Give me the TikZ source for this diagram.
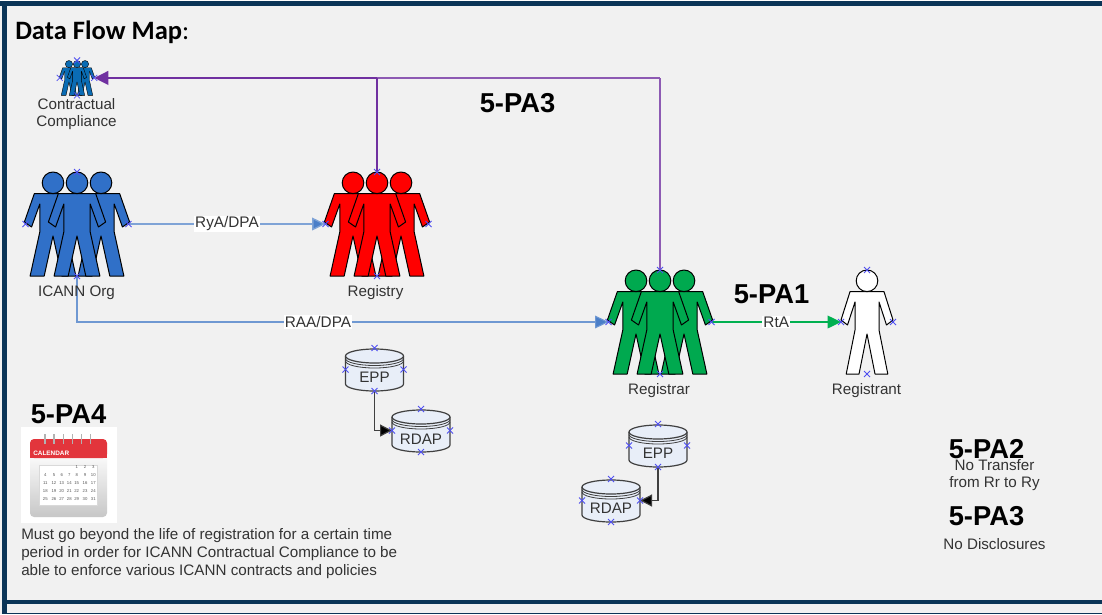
\documentclass[tikz,border=0pt]{standalone}
\usepackage{fontspec}
\setmainfont{Liberation Sans}
\newfontfamily\titlefont{Carlito}
\usetikzlibrary{arrows.meta}
\definecolor{navy}{HTML}{0B3557}
\definecolor{panel}{HTML}{F1F1F1}
\definecolor{icannblue}{HTML}{3070C8}
\definecolor{ccblue}{HTML}{0A6CB4}
\definecolor{regred}{HTML}{FF0000}
\definecolor{regreen}{HTML}{00A94F}
\definecolor{linkblue}{HTML}{7FA3D6}
\definecolor{tipblue}{HTML}{4A7EC8}
\definecolor{linkgreen}{HTML}{00B050}
\definecolor{linkpurple}{HTML}{7030A0}
\definecolor{xcolr}{HTML}{5050F0}
\definecolor{dbfill}{HTML}{E8EEF8}
\definecolor{labelgrey}{HTML}{333333}
\definecolor{calred}{HTML}{E2353C}
\newcommand{\fsz}[1]{\fontsize{#1}{#1}\selectfont}
\tikzset{
  x=0.75pt,y=-0.75pt,
  xmark/.style={xcolr,line width=0.6pt},
  lbl/.style={inner sep=0pt,text=labelgrey,align=center,font=\fsz{11.4}},
  pa/.style={inner sep=0pt,text=black,font=\fsz{20.5}\bfseries},
  linklbl/.style={fill=white,inner sep=0.8pt,text=labelgrey,font=\fsz{11.5}},
  tipbig/.style={-{Triangle[length=10pt,width=9.5pt]}},
  fig/.style={draw=black,line width=#1,line join=round},
  fig/.default=0.7pt,
  onefig/.pic={
    \begin{scope}[scale=\tikzsetfigscale]
    \begin{scope}[xscale=\figxs]
    \path[fig=\figlw,fill=\figfill] (-17,21.7) -- (17,21.7) -- (26,50) -- (19.5,55) -- (12,32) -- (12,60) -- (20.8,104) -- (8,104) -- (0,64) -- (-8,104) -- (-20.8,104) -- (-12,60) -- (-12,32) -- (-19.5,55) -- (-26,50) -- cycle;
    \end{scope}
    \path[fig=\figlw,fill=\figfill] (0,10.8) circle[radius=10.8];
    \end{scope}
  },
  crowd/.pic={
    \pic at (-24*\tikzsetfigscale,0) {onefig};
    \pic at (24*\tikzsetfigscale,0) {onefig};
    \pic at (0,0) {onefig};
    \coordinate (-top) at (0,0);
    \coordinate (-bot) at (0,104*\tikzsetfigscale);
    \coordinate (-l) at (-51.5*\tikzsetfigscale,52*\tikzsetfigscale);
    \coordinate (-r) at (51.5*\tikzsetfigscale,52*\tikzsetfigscale);
  },
  solo/.pic={
    \pic at (0,0) {onefig};
    \coordinate (-top) at (0,0);
    \coordinate (-bot) at (0,104);
    \coordinate (-l) at (-26,52);
    \coordinate (-r) at (26,52);
  },
  dbpic/.pic={
    \path[draw=black!75,line width=0.9pt,fill=dbfill] (-29,8) -- (-29,36) arc[start angle=180,end angle=0,x radius=29,y radius=7] -- (29,8);
    \path[draw=black!75,line width=0.9pt,fill=dbfill] (0,8) ellipse[x radius=29,y radius=7];
    \draw[black!75,line width=0.6pt] (-29,10.5) arc[start angle=180,end angle=0,x radius=29,y radius=7];
    \draw[black!75,line width=0.6pt] (-29,13) arc[start angle=180,end angle=0,x radius=29,y radius=7];
    \coordinate (-top) at (0,0);
    \coordinate (-bot) at (0,43);
    \coordinate (-l) at (-29,21.5);
    \coordinate (-r) at (29,21.5);
  },
}
\newcommand{\tikzsetfigscale}{1}
\newcommand{\figxs}{1.1}
\newcommand{\figlw}{0.7pt}
\newcommand{\figfill}{white}
\newcommand{\xat}[1]{\draw[xmark] (#1) ++(-3,-3) -- ++(6,6) ++(-6,0) -- ++(6,-6);}
\begin{document}
\begin{tikzpicture}
\useasboundingbox (0,0) rectangle (1102,614);
% panel and frame
\fill[panel] (0,0) rectangle (1102,614);
\fill[white] (0,0) rectangle (1102,1);
\fill[navy] (0,1) rectangle (1102,5.8);
\fill[navy] (2,1) rectangle (6.5,614);
\fill[navy] (2,600) rectangle (1102,604);
\fill[navy] (2,613) rectangle (1102,614);
\node[anchor=base west,inner sep=0pt,font=\titlefont\fsz{19.9}] (title) at (15,39) {\textbf{Data Flow Map}:};
% people
\renewcommand{\figfill}{ccblue}\renewcommand{\figlw}{0.3pt}\renewcommand{\tikzsetfigscale}{0.335}
\pic (cc) at (77,60.5) {crowd};
\renewcommand{\figlw}{0.75pt}\renewcommand{\tikzsetfigscale}{1}
\renewcommand{\figfill}{icannblue}
\pic (icann) at (77,172) {crowd};
\renewcommand{\figfill}{regred}
\pic (registry) at (377,172) {crowd};
\renewcommand{\figfill}{regreen}
\pic (registrar) at (660,270) {crowd};
\renewcommand{\figfill}{white}\renewcommand{\figxs}{1}
\pic (registrant) at (867,270) {solo};
% databases
\pic (eppa) at (374.5,348) {dbpic};
\pic (rdapa) at (421,409) {dbpic};
\pic (eppb) at (658,424) {dbpic};
\pic (rdapb) at (611,479) {dbpic};
\node[inner sep=0pt,text=labelgrey,font=\fsz{11.4}] (eppat) at (374.5,377) {EPP};
\node[inner sep=0pt,text=labelgrey,font=\fsz{11.4}] (rdapat) at (421,439.5) {RDAP};
\node[inner sep=0pt,text=labelgrey,font=\fsz{11.4}] (eppbt) at (658,453) {EPP};
\node[inner sep=0pt,text=labelgrey,font=\fsz{11.4}] (rdapbt) at (611,508) {RDAP};
% connectors
\draw[black!75,line width=0.9pt,-{Triangle[length=9pt,width=9pt,fill=black]}] (eppa-bot) |- (rdapa-l);
\draw[black!75,line width=0.9pt,-{Triangle[length=9pt,width=9pt,fill=black]}] (eppb-bot) |- (rdapb-r);
\draw[linkblue,line width=1pt,-{Triangle[length=10pt,width=9.5pt,fill=tipblue]}] (icann-r) -- node[linklbl] (rya) {RyA/DPA} (registry-l);
\draw[linkblue!70!tipblue,line width=0.8pt,-{Triangle[length=10pt,width=9.5pt,fill=tipblue]}] (icann-bot) |- (registrar-l);
\node[linklbl] (raa) at (318,322) {RAA/DPA};
\draw[linkgreen,line width=1pt,tipbig] (registrar-r) -- node[linklbl] (rta) {RtA} (registrant-l);
\draw[linkpurple!80,line width=1.5pt] (registrar-top) -- (registrar-top |- cc-r);
\draw[linkpurple!80,line width=2pt] (registrar-top |- cc-r) -- (registry-top |- cc-r);
\draw[linkpurple,line width=1.5pt] (registry-top) -- (registry-top |- cc-r);
\draw[linkpurple,line width=2.1pt,-{Triangle[length=10.5pt,width=10pt,fill=linkpurple]}] (registry-top |- cc-r) -- (cc-r);
% connection markers
\foreach \c in {cc-top,cc-bot,cc-l,cc-r,icann-top,icann-bot,icann-l,icann-r,registry-top,registry-bot,registry-l,registry-r,registrar-top,registrar-bot,registrar-l,registrar-r,registrant-top,registrant-bot,registrant-l,registrant-r,eppa-top,eppa-bot,eppa-l,eppa-r,rdapa-top,rdapa-bot,rdapa-l,rdapa-r,eppb-top,eppb-bot,eppb-l,eppb-r,rdapb-top,rdapb-bot,rdapb-l,rdapb-r}{\xat{\c}}
% labels
\node[lbl] (cct) at (76.5,104) {Contractual};
\node[lbl] (cct2) at (76.5,122.5) {Compliance};
\node[lbl] (icannt) at (76.5,292.5) {ICANN Org};
\node[lbl] (registryt) at (375.5,292.5) {Registry};
\node[lbl] (registrart) at (659,390.5) {Registrar};
\node[lbl] (registrantt) at (866.5,390.5) {Registrant};
\node[pa] (pa3a) at (517.5,103) {5-PA3};
\node[pa] (pa1) at (771.5,294) {5-PA1};
\node[pa] (pa4) at (68.5,414) {5-PA4};
\node[pa] (pa2) at (986.5,449) {5-PA2};
\node[pa] (pa3b) at (986.5,516) {5-PA3};
\node[lbl] (nt) at (994.5,465.5) {No Transfer};
\node[lbl] (nt2) at (994.5,483.5) {from Rr to Ry};
\node[lbl] (nd) at (994.5,544) {No Disclosures};
\node[lbl,anchor=base west] (must1) at (21,539) {Must go beyond the life of registration for a certain time};
\node[lbl,anchor=base west] (must2) at (21,557.5) {period in order for ICANN Contractual Compliance to be};
\node[lbl,anchor=base west] (must3) at (21,575.5) {able to enforce various ICANN contracts and policies};
% calendar
\fill[white] (20.5,427) rectangle (116.7,522.7);
\shade[top color=white,bottom color=black!22,rounded corners=3pt] (30,450) rectangle (107,517);
\fill[calred,rounded corners=3pt] (30,439) rectangle (107,458);
\fill[calred] (30,450) rectangle (107,458);
\foreach \ringx in {45,54,63.3,72.3,81.3,90.7}{\draw[black!30,line width=1pt] (\ringx,434) -- (\ringx,444);}
\fill[white,draw=black!15,line width=0.2pt] (39,465) rectangle (97,505);
\node[anchor=west,inner sep=0pt,text=white,font=\fsz{4.8}\bfseries] (calt) at (33,453.5) {CALENDAR};
\foreach \d/\cx/\cy in {1/76.7/466.7,2/85/466.7,3/93.3/466.7,
 4/45.3/475,5/54/475,6/61.7/475,7/69.3/475,8/76.7/475,9/85/475,10/93.3/475,
 11/45.3/483,12/54/483,13/61.7/483,14/69.3/483,15/76.7/483,16/85/483,17/93.3/483,
 18/45.3/491,19/54/491,20/61.7/491,21/69.3/491,22/76.7/491,23/85/491,24/93.3/491,
 25/45.3/499,26/54/499,27/61.7/499,28/69.3/499,29/76.7/499,30/85/499,31/93.3/499}{
  \node[inner sep=0pt,text=black!65,font=\fsz{3.2}] (day\d) at (\cx,\cy) {\d};
}
\end{tikzpicture}
\end{document}
